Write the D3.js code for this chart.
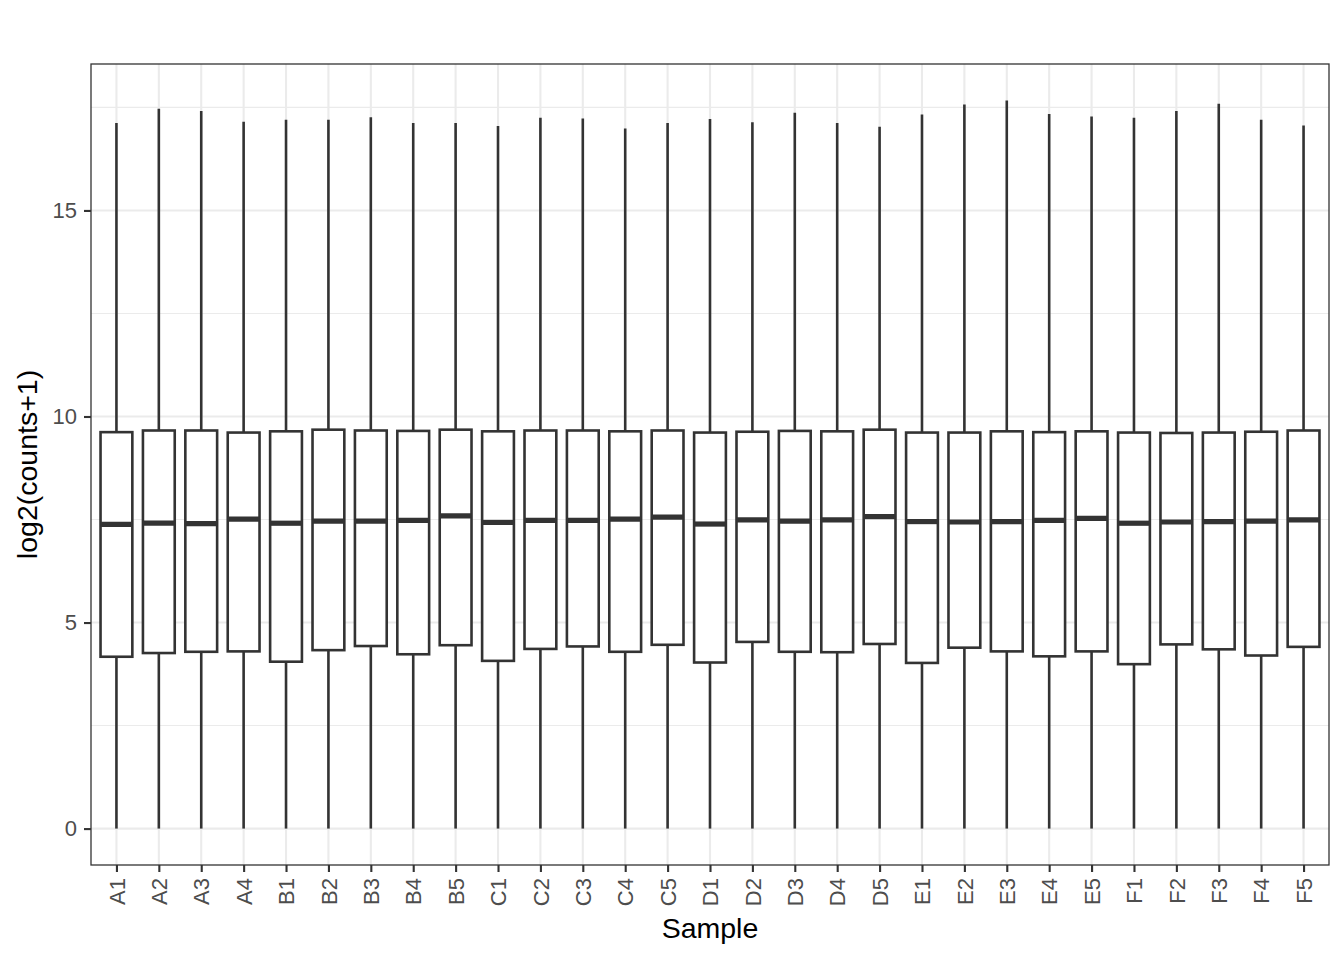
<!DOCTYPE html>
<html>
<head>
<meta charset="utf-8">
<script src="https://cdn.jsdelivr.net/npm/d3@7"></script>
<style>
  html, body { margin: 0; padding: 0; background: #ffffff; }
  svg { display: block; }
  text { font-family: "Liberation Sans", Arial, Helvetica, sans-serif; }
</style>
</head>
<body>
<svg id="chart" width="1344" height="960"></svg>
<script>
const samples = ["A1","A2","A3","A4","B1","B2","B3","B4","B5","C1","C2","C3","C4","C5",
                 "D1","D2","D3","D4","D5","E1","E2","E3","E4","E5","F1","F2","F3","F4","F5"];
const whiskerLow = [0,0,0,0,0,0,0,0,0,0,0,0,0,0,0,0,0,0,0,0,0,0,0,0,0,0,0,0,0];
const q1 = [4.17,4.26,4.29,4.30,4.05,4.33,4.43,4.23,4.45,4.07,4.36,4.42,4.29,4.46,
            4.03,4.53,4.29,4.28,4.48,4.02,4.39,4.30,4.18,4.30,3.99,4.47,4.35,4.20,4.41];
const median = [7.38,7.41,7.40,7.51,7.41,7.46,7.46,7.48,7.59,7.43,7.48,7.48,7.51,7.56,
                7.39,7.49,7.46,7.49,7.57,7.45,7.44,7.45,7.48,7.53,7.41,7.44,7.45,7.46,7.49];
const q3 = [9.62,9.66,9.66,9.61,9.64,9.68,9.66,9.65,9.68,9.64,9.66,9.66,9.64,9.66,
            9.61,9.63,9.65,9.64,9.68,9.61,9.61,9.64,9.62,9.64,9.61,9.60,9.61,9.63,9.66];
const whiskerHigh = [17.12,17.47,17.41,17.15,17.20,17.20,17.26,17.12,17.12,17.05,17.25,17.23,16.99,17.12,
                     17.22,17.14,17.37,17.12,17.03,17.33,17.57,17.67,17.34,17.28,17.25,17.41,17.59,17.20,17.06];
const yTicks = [0, 5, 10, 15];
const yMinorTicks = [2.5, 7.5, 12.5, 17.5];
const xTitle = "Sample";
const yTitle = "log2(counts+1)";

const rows = samples.map((s, i) => ({
  s, lo: whiskerLow[i], q1: q1[i], med: median[i], q3: q3[i], hi: whiskerHigh[i]
}));

const svg = d3.select("#chart");
const panel = { left: 91, top: 64, right: 1329, bottom: 865 };

const dmin = d3.min(whiskerLow), dmax = d3.max(whiskerHigh);
const pad = (dmax - dmin) * 0.05;
const y = d3.scaleLinear().domain([dmin - pad, dmax + pad]).range([panel.bottom, panel.top]);
const x = d3.scalePoint().domain(samples).range([panel.left, panel.right]).padding(0.6);
const boxW = x.step() * 0.75;

const ink = "#333333";
const gridCol = "#EBEBEB";

svg.append("rect").attr("x", panel.left).attr("y", panel.top)
  .attr("width", panel.right - panel.left).attr("height", panel.bottom - panel.top)
  .attr("fill", "#ffffff");

const grid = svg.append("g");
grid.selectAll(".ymin").data(yMinorTicks.filter(t => y(t) > panel.top && y(t) < panel.bottom))
  .join("line")
  .attr("x1", panel.left).attr("x2", panel.right)
  .attr("y1", d => y(d)).attr("y2", d => y(d))
  .attr("stroke", gridCol).attr("stroke-width", 1.1);
grid.selectAll(".ymaj").data(yTicks).join("line")
  .attr("x1", panel.left).attr("x2", panel.right)
  .attr("y1", d => y(d)).attr("y2", d => y(d))
  .attr("stroke", gridCol).attr("stroke-width", 2.1);
grid.selectAll(".xmaj").data(samples).join("line")
  .attr("x1", d => x(d)).attr("x2", d => x(d))
  .attr("y1", panel.top).attr("y2", panel.bottom)
  .attr("stroke", gridCol).attr("stroke-width", 2.1);

const g = svg.append("g");
const b = g.selectAll("g.box").data(rows).join("g").attr("class", "box");
b.append("line")
  .attr("x1", d => x(d.s)).attr("x2", d => x(d.s))
  .attr("y1", d => y(d.q3)).attr("y2", d => y(d.hi))
  .attr("stroke", ink).attr("stroke-width", 2.6);
b.append("line")
  .attr("x1", d => x(d.s)).attr("x2", d => x(d.s))
  .attr("y1", d => y(d.q1)).attr("y2", d => y(d.lo))
  .attr("stroke", ink).attr("stroke-width", 2.6);
b.append("rect")
  .attr("x", d => x(d.s) - boxW / 2).attr("width", boxW)
  .attr("y", d => y(d.q3)).attr("height", d => y(d.q1) - y(d.q3))
  .attr("fill", "#ffffff").attr("stroke", ink).attr("stroke-width", 2.6);
b.append("line")
  .attr("x1", d => x(d.s) - boxW / 2).attr("x2", d => x(d.s) + boxW / 2)
  .attr("y1", d => y(d.med)).attr("y2", d => y(d.med))
  .attr("stroke", ink).attr("stroke-width", 5.2);

svg.append("rect").attr("x", panel.left).attr("y", panel.top)
  .attr("width", panel.right - panel.left).attr("height", panel.bottom - panel.top)
  .attr("fill", "none").attr("stroke", ink).attr("stroke-width", 1.3);

const yAxis = d3.axisLeft(y).tickValues(yTicks).tickSize(7).tickPadding(7).tickFormat(d3.format("d"));
const ya = svg.append("g").attr("transform", `translate(${panel.left},0)`).call(yAxis);
ya.select(".domain").remove();
ya.selectAll(".tick line").attr("stroke", ink).attr("stroke-width", 2.1);
ya.selectAll(".tick text").attr("fill", "#4D4D4D").style("font-size", "22px")
  .style("font-family", "'Liberation Sans', Arial, sans-serif");

const xAxis = d3.axisBottom(x).tickSize(7).tickPadding(6);
const xa = svg.append("g").attr("transform", `translate(0,${panel.bottom})`).call(xAxis);
xa.select(".domain").remove();
xa.selectAll(".tick line").attr("stroke", ink).attr("stroke-width", 2.1);
xa.selectAll(".tick text")
  .attr("fill", "#4D4D4D").style("font-size", "22px")
  .style("font-family", "'Liberation Sans', Arial, sans-serif")
  .attr("transform", "rotate(-90)")
  .attr("text-anchor", "end")
  .attr("x", -13).attr("y", 0).attr("dy", "0.35em");

svg.append("text").attr("x", (panel.left + panel.right) / 2).attr("y", 938)
  .attr("text-anchor", "middle").attr("fill", "#000000").style("font-size", "28.5px")
  .text(xTitle);
svg.append("text")
  .attr("transform", `translate(37,${(panel.top + panel.bottom) / 2}) rotate(-90)`)
  .attr("text-anchor", "middle").attr("fill", "#000000").style("font-size", "28.5px")
  .text(yTitle);
</script>
</body>
</html>
